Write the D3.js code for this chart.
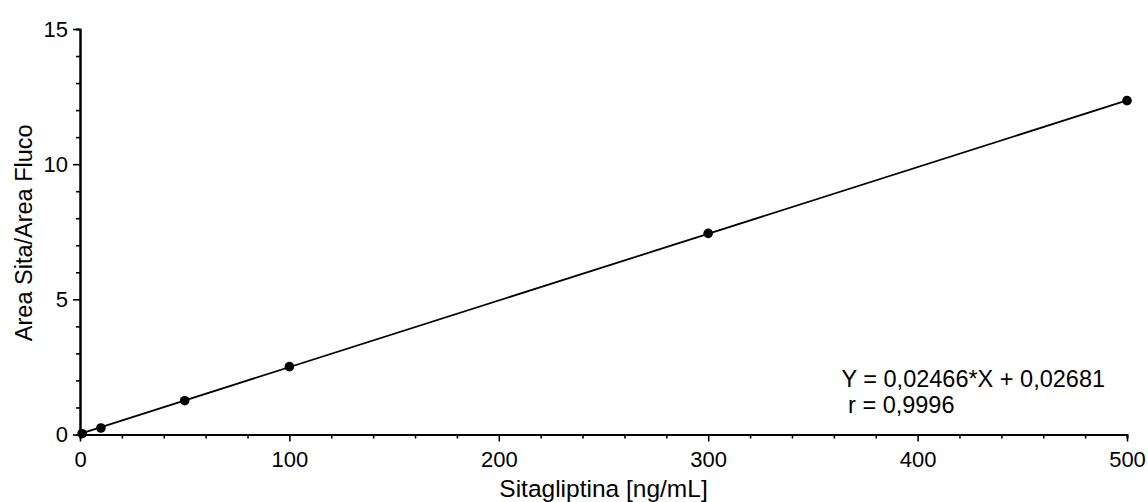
<!DOCTYPE html>
<html>
<head>
<meta charset="utf-8">
<script src="https://cdn.jsdelivr.net/npm/d3@7"></script>
<style>
  html, body { margin: 0; padding: 0; background: #fff; }
  svg text { font-family: "Liberation Sans", Arial, sans-serif; fill: #000; }
</style>
</head>
<body>
<svg id="chart" width="1148" height="502"></svg>
<script>
// Calibration standards: concentration vs. peak-area ratio
const concentrations = [1, 10, 50, 100, 300, 500];
const areaRatios = [0.03, 0.24, 1.25, 2.51, 7.44, 12.35];

// Linear fit
const slope = 0.02466;
const intercept = 0.02681;
const fitRange = [0, 500];

const xMajorTicks = [0, 100, 200, 300, 400, 500];
const yMajorTicks = [0, 5, 10, 15];

const xTitle = "Sitagliptina [ng/mL]";
const yTitle = "Area Sita/Area Fluco";
const equationText = "Y = 0,02466*X + 0,02681";
const rText = " r = 0,9996";

const svg = d3.select("#chart");
const x = d3.scaleLinear().domain([0, 500]).range([80, 1127]);
const y = d3.scaleLinear().domain([0, 15]).range([434.5, 29]);

const fmt = d => String(d);

// minor ticks
const xMinor = d3.range(0, 501, 20).filter(v => v % 100 !== 0);
const yMinor = d3.range(0, 16, 1).filter(v => v % 5 !== 0);

const xAxisG = svg.append("g").attr("transform", `translate(0,${y(0)})`);
xAxisG.call(d3.axisBottom(x).tickValues(xMinor).tickSize(4).tickFormat(""));
xAxisG.append("g").call(d3.axisBottom(x).tickValues(xMajorTicks).tickSize(7).tickSizeOuter(0).tickPadding(5).tickFormat(fmt));

const yAxisG = svg.append("g").attr("transform", `translate(${x(0)},0)`);
yAxisG.call(d3.axisLeft(y).tickValues(yMinor).tickSize(4).tickFormat(""));
yAxisG.append("g").call(d3.axisLeft(y).tickValues(yMajorTicks).tickSize(7).tickSizeOuter(0).tickPadding(5).tickFormat(fmt));

svg.selectAll(".domain").attr("stroke", "#000").attr("stroke-width", 2);
svg.selectAll(".tick line").attr("stroke", "#000").attr("stroke-width", 1.6);
svg.selectAll(".tick text").style("font-size", "22px").style("font-family", "Liberation Sans, Arial, sans-serif").attr("fill", "#000");
xAxisG.selectAll(".tick text").attr("dy", "0.95em");

// fitted line
const line = d3.line().x(d => x(d)).y(d => y(slope * d + intercept));
svg.append("path")
  .datum(fitRange)
  .attr("d", line)
  .attr("fill", "none")
  .attr("stroke", "#000")
  .attr("stroke-width", 1.8);

// data points
svg.append("g").selectAll("circle")
  .data(concentrations.map((c, i) => [c, areaRatios[i]]))
  .join("circle")
  .attr("cx", d => x(d[0]))
  .attr("cy", d => y(d[1]))
  .attr("r", 4.8)
  .attr("fill", "#000");

// titles
svg.append("text")
  .attr("x", (x(0) + x(500)) / 2)
  .attr("y", 497)
  .attr("text-anchor", "middle")
  .style("font-size", "24.5px")
  .text(xTitle);

svg.append("text")
  .attr("transform", `translate(32,${(y(0) + y(15)) / 2 + 1}) rotate(-90)`)
  .attr("text-anchor", "middle")
  .style("font-size", "23.5px")
  .text(yTitle);

// equation annotation
svg.append("text")
  .attr("x", 841.5)
  .attr("y", 387)
  .style("font-size", "23.5px")
  .text(equationText);
svg.append("text")
  .attr("x", 841.5)
  .attr("y", 413)
  .style("font-size", "23.5px")
  .attr("xml:space", "preserve")
  .style("white-space", "pre")
  .text(rText);
</script>
</body>
</html>
